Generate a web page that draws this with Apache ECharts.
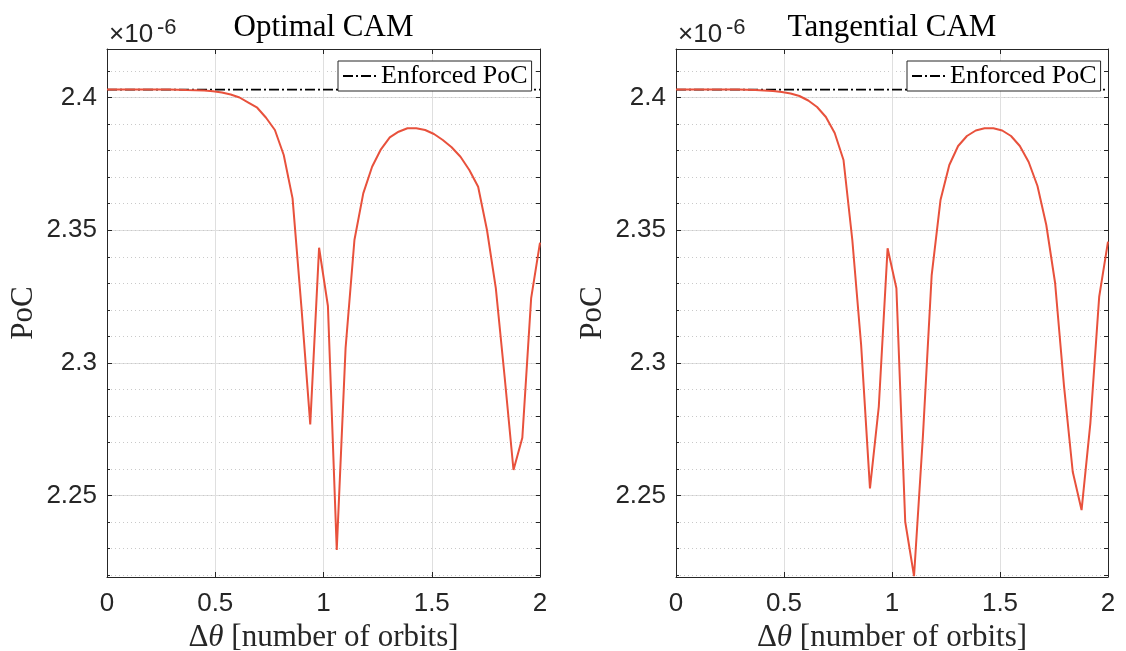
<!DOCTYPE html>
<html><head><meta charset="utf-8">
<script src="https://cdn.jsdelivr.net/npm/echarts@6/dist/echarts.min.js"></script>
<style>html,body{margin:0;padding:0;background:#fff}#c{width:1126px;height:651px}</style>
</head><body><div id="c"></div>
<script>
// Δθ [number of orbits]
const deltaTheta = [0,0.0408,0.0816,0.1224,0.1633,0.2041,0.2449,0.2857,0.3265,0.3673,
  0.4082,0.4490,0.4898,0.5306,0.5714,0.6122,0.6531,0.6939,0.7347,0.7755,
  0.8163,0.8571,0.8980,0.9388,0.9796,1.0204,1.0612,1.1020,1.1429,1.1837,
  1.2245,1.2653,1.3061,1.3469,1.3878,1.4286,1.4694,1.5102,1.5510,1.5918,
  1.6327,1.6735,1.7143,1.7551,1.7959,1.8367,1.8776,1.9184,1.9592,2.0];
// PoC (x 1e-6)
const pocOptimal = [2.40303,2.40303,2.40303,2.40303,2.40302,2.40302,2.40301,2.40300,2.40298,2.40285,
  2.40277,2.40262,2.40236,2.40190,2.40115,2.40002,2.39813,2.39617,2.39240,2.38777,
  2.37835,2.36202,2.32105,2.27684,2.34340,2.32143,2.22946,2.30560,2.34631,2.36391,
  2.37394,2.38049,2.38502,2.38713,2.38841,2.38841,2.38777,2.38626,2.38400,2.38125,
  2.37770,2.37269,2.36640,2.35008,2.32821,2.29467,2.25962,2.27179,2.32444,2.34529];
const pocTangential = [2.40303,2.40303,2.40303,2.40303,2.40302,2.40302,2.40301,2.40299,2.40292,2.40281,
  2.40270,2.40247,2.40209,2.40153,2.40058,2.39889,2.39644,2.39267,2.38664,2.37646,
  2.34631,2.30673,2.25272,2.28347,2.34318,2.32810,2.24012,2.21960,2.27205,2.33311,
  2.36138,2.37458,2.38174,2.38551,2.38758,2.38841,2.38841,2.38758,2.38551,2.38174,
  2.37571,2.36666,2.35196,2.33010,2.29165,2.25897,2.24453,2.27733,2.32493,2.34567];
const enforcedPoC = 2.4030;
const titles = ['Optimal CAM', 'Tangential CAM'];
const curves = [pocOptimal, pocTangential];
const xTicks = [0, 0.5, 1, 1.5, 2];
const yMajorTicks = [2.25, 2.3, 2.35, 2.4];
const yMinorTicks = [2.22,2.23,2.24,2.25,2.26,2.27,2.28,2.29,2.30,2.31,2.32,2.33,2.34,2.35,2.36,2.37,2.38,2.39,2.40,2.41];
const yMin = 2.2193, yMax = 2.4183;

const AX = '#262626';
const SANS = 'Liberation Sans';
const SERIF = 'Liberation Serif';
const gridPos = [{left:107, width:433}, {left:676, width:432}];

const option = {
  animation:false,
  backgroundColor:'#fff',
  grid: gridPos.map(g => ({left:g.left, width:g.width, top:49, height:528, containLabel:false, outerBoundsMode:'none'})),
  xAxis: [], yAxis: [], series: [], legend: [], graphic: []
};

gridPos.forEach((g, gi) => {
  option.xAxis.push({
    gridIndex:gi, type:'value', position:'bottom', min:xTicks[0], max:xTicks[xTicks.length-1], interval:0.5,
    axisLine:{show:true, onZero:false, lineStyle:{color:AX, width:1}},
    axisTick:{show:true, inside:true, length:5, lineStyle:{color:AX}},
    axisLabel:{fontSize:26, color:AX, fontFamily:SANS, margin:14, formatter:v => String(v)},
    splitLine:{show:true, lineStyle:{color:'#dfdfdf', width:1}},
    name:'{a|Δ}{b|θ}{a| [number of orbits]}', nameLocation:'middle', nameGap:42,
    nameTextStyle:{rich:{a:{fontFamily:SERIF, fontSize:31, color:AX}, b:{fontFamily:SERIF, fontStyle:'italic', fontSize:31, color:AX}}}
  });
  option.xAxis.push({
    gridIndex:gi, type:'value', position:'top', min:xTicks[0], max:xTicks[xTicks.length-1], interval:0.5,
    axisLine:{show:true, onZero:false, lineStyle:{color:AX, width:1}},
    axisTick:{show:true, inside:true, length:5, lineStyle:{color:AX}},
    axisLabel:{show:false}, splitLine:{show:false}
  });
  option.yAxis.push({
    gridIndex:gi, type:'value', position:'left', min:yMin, max:yMax,
    axisLine:{show:true, onZero:false, lineStyle:{color:AX, width:1}},
    axisTick:{show:true, inside:true, length:5, customValues:yMajorTicks, lineStyle:{color:AX}},
    axisLabel:{customValues:yMajorTicks, fontSize:26, color:AX, fontFamily:SANS, margin:10,
      formatter:v => String(Math.round(v*100)/100)},
    splitLine:{show:true, lineStyle:{color:'#dfdfdf', width:1}},
    name:'PoC', nameLocation:'middle', nameRotate:90, nameGap:68,
    nameTextStyle:{fontFamily:SERIF, fontSize:31, color:AX}
  });
  option.yAxis.push({
    gridIndex:gi, type:'value', position:'left', min:yMin, max:yMax,
    axisLine:{show:false, onZero:false},
    axisTick:{show:true, inside:true, length:3, customValues:yMinorTicks, lineStyle:{color:AX}},
    axisLabel:{show:false},
    splitLine:{show:true, lineStyle:{color:'#c9c9c9', width:1, type:[1,3]}}
  });
  option.yAxis.push({
    gridIndex:gi, type:'value', position:'right', min:yMin, max:yMax,
    axisLine:{show:true, onZero:false, lineStyle:{color:AX, width:1}},
    axisTick:{show:true, inside:true, length:4, customValues:yMinorTicks, lineStyle:{color:AX}},
    axisLabel:{show:false}, splitLine:{show:false}
  });
  option.series.push({
    type:'line', name:'Enforced PoC', xAxisIndex:gi*2, yAxisIndex:gi*3,
    data:[[xTicks[0], enforcedPoC], [xTicks[xTicks.length-1], enforcedPoC]],
    symbol:'none', silent:true, z:2,
    itemStyle:{color:'#000'},
    lineStyle:{color:'#000', width:1.8, type:[10,3,2,3]}
  });
  option.series.push({
    type:'line', name:'PoC curve', xAxisIndex:gi*2, yAxisIndex:gi*3,
    data:deltaTheta.map((x,i) => [x, curves[gi][i]]),
    symbol:'none', silent:true, z:3,
    itemStyle:{color:'#E8513C'},
    lineStyle:{color:'#E8513C', width:2}
  });
  option.legend.push({
    data:['Enforced PoC'], left:g.left + 231, top:61, itemWidth:33, itemHeight:14,
    padding:[2,4,2,4], borderColor:AX, borderWidth:1, borderRadius:0, backgroundColor:'#fff',
    itemStyle:{opacity:0},
    selectedMode:false, textStyle:{fontFamily:SERIF, fontSize:26, color:'#000', lineHeight:26}
  });
  const cx = g.left + g.width/2;
  option.graphic.push({type:'text', x:cx, y:28, z:10,
    style:{text:titles[gi], font:'31px "Liberation Serif"', fill:'#000', align:'center', verticalAlign:'middle', textAlign:'center', textVerticalAlign:'middle'}});
  option.graphic.push({type:'text', x:g.left + 2, y:35, z:10,
    style:{text:'×10', font:'26px "Liberation Sans"', fill:AX, align:'left', verticalAlign:'middle', textAlign:'left', textVerticalAlign:'middle'}});
  option.graphic.push({type:'text', x:g.left + 50, y:28, z:10,
    style:{text:'-6', font:'22px "Liberation Sans"', fill:AX, align:'left', verticalAlign:'middle', textAlign:'left', textVerticalAlign:'middle'}});
});

const chart = echarts.init(document.getElementById('c'), null, {renderer:'canvas'});
chart.setOption(option);
</script></body></html>
